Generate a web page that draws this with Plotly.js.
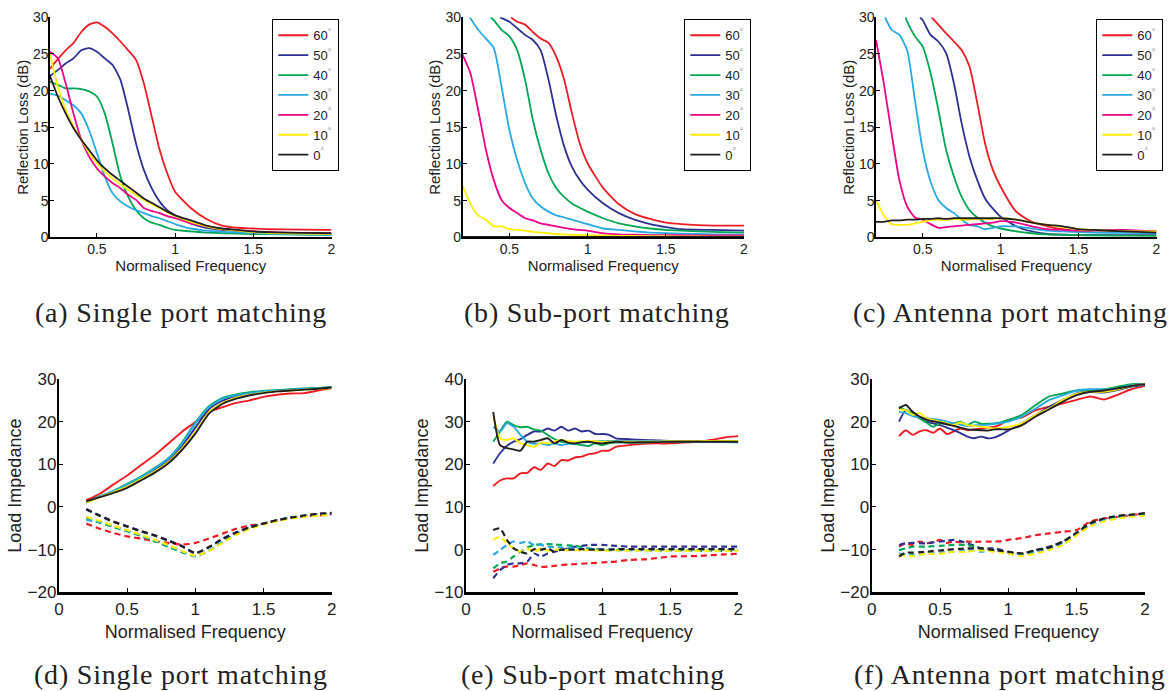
<!DOCTYPE html>
<html>
<head>
<meta charset="utf-8">
<script src="https://cdn.plot.ly/plotly-3.0.1.min.js"></script>
<style>
html,body{margin:0;padding:0;background:#fff;}
.annotation-text{letter-spacing:0.8px;}
</style>
</head>
<body>
<div id="chart" style="width:1173px;height:691px;"></div>
<script>
// ---------- series names & colours ----------
const angleNames = ['60','50','40','30','20','10','0'];
const angleColors = ['#ed1c24','#2e3192','#00a651','#27aae1','#ec008c','#ffee00','#231f20'];

// ---------- (a) Single port matching : reflection loss ----------
const fA = [0.2,0.25,0.3,0.35,0.4,0.45,0.5,0.55,0.6,0.65,0.7,0.75,0.8,0.85,0.9,0.95,1.0,1.1,1.2,1.3,1.4,1.5,1.6,1.8,2.0];
const rlA60 = [23,24.3,25.5,26.5,28,29,29.3,28.7,27.8,26.7,25.5,24.2,21,16.5,12,8.7,6.2,4.0,2.5,1.6,1.3,1.2,1.1,1.05,1.0];
const rlA50 = [22,22.8,23.7,24.4,25.5,25.8,25.3,24.4,23.5,21.5,17.4,12.8,9.2,6.7,4.9,3.7,3.0,1.9,1.3,1.0,0.85,0.7,0.6,0.5,0.45];
const rlA40 = [21.2,20.8,20.3,20.3,20.2,19.9,19.2,16.9,12.8,8.3,5.5,3.7,2.6,2.0,1.7,1.3,1.0,0.8,0.65,0.55,0.5,0.45,0.42,0.38,0.35];
const rlA30 = [19.6,19.3,18.7,18,16.9,14.6,11.5,8.3,6,4.9,4.2,3.7,3.3,2.9,2.6,2.2,1.8,1.2,0.9,0.75,0.65,0.55,0.5,0.4,0.3];
const rlA20 = [25.3,24.4,21,16.9,13.3,11,9.4,8.3,7.4,6.7,5.8,5.1,4.0,3.6,3.3,2.9,2.6,1.9,1.5,1.1,0.95,0.8,0.7,0.6,0.55];
const rlA10 = [25,20.5,17.4,15.1,13.3,11.5,10.1,9,8,7.2,6.5,5.8,5.1,4.5,4.0,3.4,2.9,2.1,1.5,1.1,0.9,0.7,0.6,0.5,0.45];
const rlA0  = [22,19.2,16.9,14.9,13.3,11.9,10.5,9.4,8.5,7.7,6.9,6.1,5.3,4.7,4.1,3.5,3.0,2.3,1.6,1.2,1.0,0.8,0.7,0.6,0.55];

// ---------- (b) Sub-port matching : reflection loss ----------
const fB60 = [0.51,0.55,0.6,0.65,0.7,0.75,0.8,0.85,0.9,0.95,1.0,1.1,1.2,1.3,1.4,1.5,1.6,1.8,2.0];
const rlB60 = [30,29.4,29,28,27.1,26.5,24.6,21.5,16.9,12.8,10.1,6.7,4.5,3.2,2.5,2.0,1.8,1.6,1.6];
const fB50 = [0.44,0.5,0.55,0.6,0.65,0.7,0.75,0.8,0.85,0.9,0.95,1.0,1.1,1.2,1.3,1.4,1.5,1.6,1.8,2.0];
const rlB50 = [30,29.4,28.5,27.6,26.9,25.5,21.5,16.5,12.4,9.6,7.8,6.5,4.6,3.3,2.4,1.8,1.4,1.1,1.0,0.9];
const fB40 = [0.38,0.4,0.45,0.5,0.55,0.6,0.65,0.7,0.75,0.8,0.85,0.9,1.0,1.1,1.2,1.3,1.4,1.5,1.6,1.8,2.0];
const rlB40 = [30,29.6,28.3,27.4,25.5,21.5,16,11.9,8.7,6.7,5.5,4.6,3.5,2.6,1.9,1.5,1.2,1.0,0.9,0.75,0.65];
const fB30 = [0.247,0.3,0.35,0.4,0.45,0.5,0.55,0.6,0.65,0.7,0.75,0.8,0.85,0.9,0.95,1.0,1.1,1.2,1.3,1.4,1.5,1.6,1.8,2.0];
const rlB30 = [30,28.3,27.1,25.8,20.5,14.6,10.5,7.4,5.3,4.2,3.5,3.0,2.7,2.4,2.1,1.8,1.2,1.0,0.8,0.65,0.55,0.5,0.4,0.35];
const rlB20 = [24.9,22.4,17.4,11.9,7.8,5.1,4.0,3.3,2.6,2.3,1.9,1.7,1.5,1.3,1.1,1.0,0.9,0.55,0.4,0.35,0.3,0.3,0.28,0.25,0.25];
const rlB10 = [7.1,4.6,3.0,2.4,1.5,1.5,1.1,1.0,0.9,0.75,0.65,0.55,0.45,0.4,0.35,0.32,0.3,0.25,0.2,0.18,0.16,0.15,0.13,0.1,0.1];
const rlB0  = [0.05,0.05,0.05,0.05,0.05,0.05,0.05,0.05,0.05,0.05,0.05,0.05,0.05,0.05,0.05,0.05,0.05,0.05,0.05,0.05,0.05,0.05,0.05,0.05,0.05];

// ---------- (c) Antenna port matching : reflection loss ----------
const fC60 = [0.557,0.6,0.65,0.7,0.75,0.8,0.85,0.9,0.95,1.0,1.1,1.2,1.3,1.4,1.5,1.6,1.7,1.8,2.0];
const rlC60 = [30,29,27.8,26.7,25.5,23.3,18.3,12.8,9.2,6.9,3.5,2.1,1.5,1.1,0.9,0.9,0.9,0.88,0.85];
const fC50 = [0.482,0.5,0.55,0.6,0.65,0.7,0.75,0.8,0.85,0.9,0.95,1.0,1.1,1.2,1.3,1.4,1.5,1.6,1.8,2.0];
const rlC50 = [30,29.6,27.6,26.7,25.1,21,15.5,11,7.8,5.3,3.9,2.8,1.5,0.8,0.45,0.35,0.3,0.3,0.3,0.3];
const fC40 = [0.39,0.4,0.45,0.5,0.55,0.6,0.65,0.7,0.75,0.8,0.85,0.9,0.95,1.0,1.1,1.2,1.3,1.4,1.5,1.6,1.8,2.0];
const rlC40 = [30,29.4,27.4,26,22.4,17.4,11.9,8.3,5.5,3.7,2.7,2.0,1.5,1.2,0.8,0.55,0.4,0.35,0.3,0.25,0.22,0.2];
const fC30 = [0.258,0.3,0.35,0.4,0.45,0.5,0.55,0.6,0.65,0.7,0.75,0.8,0.85,0.9,0.95,1.0,1.05,1.1,1.2,1.3,1.4,1.5,1.6,1.8,2.0];
const rlC30 = [30,28.3,27.6,25.5,18.7,11.9,7.6,5.1,4.0,3.3,2.4,1.7,1.5,1.1,1.3,1.5,1.5,1.5,1.2,0.9,0.8,0.7,0.65,0.6,0.55];
const rlC20 = [26.9,21,14.2,7.8,4.2,2.7,2.4,1.8,1.3,1.4,1.5,1.6,1.7,1.8,1.9,2.0,2.2,2.0,1.5,1.1,1.0,0.9,0.95,1.0,0.8];
const rlC10 = [5.1,3.0,1.8,1.7,1.7,1.9,2.1,2.3,2.4,2.3,2.5,2.4,2.4,2.5,2.5,2.5,2.6,2.4,2.0,1.7,1.4,1.1,1.0,0.85,0.8];
const rlC0  = [2.1,2.1,2.3,2.3,2.4,2.4,2.5,2.5,2.6,2.5,2.6,2.6,2.6,2.6,2.6,2.6,2.6,2.4,2.0,1.7,1.5,1.1,1.0,0.8,0.65];

// ---------- (d) Single port matching : load impedance ----------
const fD = [0.2,0.3,0.4,0.5,0.6,0.7,0.8,0.9,1.0,1.1,1.2,1.3,1.4,1.5,1.6,1.7,1.8,1.9,2.0];
const reD60 = [1.6,3.1,5.3,7.4,9.8,12.1,14.8,17.6,19.9,22.3,23.4,24.4,25.0,25.8,26.3,26.6,26.7,27.3,27.9];
const reD50 = [1.2,2.4,3.6,5.0,6.7,8.6,10.8,14.2,18.6,22.9,24.9,25.9,26.5,26.9,27.2,27.4,27.6,27.8,28.0];
const reD40 = [1.0,2.5,3.8,5.4,7.1,9.1,11.4,15.0,19.8,23.6,25.6,26.4,26.9,27.2,27.4,27.6,27.8,27.9,28.1];
const reD30 = [1.1,2.5,3.75,5.3,7.0,9.0,11.3,14.8,19.6,23.4,25.4,26.2,26.7,27.1,27.3,27.5,27.7,27.9,28.1];
const reD10 = [1.0,2.3,3.5,4.8,6.5,8.3,10.5,13.7,17.6,22.2,24.4,25.6,26.3,26.8,27.1,27.3,27.5,27.7,27.9];
const reD0  = [1.3,2.3,3.3,4.5,6.2,8.0,10.2,13.3,17.2,21.9,24.2,25.4,26.2,26.7,27.1,27.3,27.5,27.7,28.0];
const imD60 = [-3.9,-5.1,-6.1,-6.9,-7.4,-8.0,-8.4,-8.8,-8.4,-7.4,-6.25,-5.1,-4.3,-3.9,-3.1,-2.5,-2.2,-2.0,-1.7];
const imD50 = [-0.5,-2.0,-3.4,-4.5,-5.6,-6.6,-7.8,-9.1,-10.8,-9.4,-7.4,-5.9,-4.7,-3.9,-3.1,-2.5,-2.0,-1.6,-1.4];
const imD40 = [-2.6,-3.7,-4.7,-5.7,-6.8,-8.0,-9.3,-10.6,-11.5,-10.2,-8.2,-6.3,-4.9,-3.9,-3.1,-2.5,-2.1,-1.8,-1.6];
const imD30 = [-3.1,-3.5,-4.5,-5.5,-6.6,-7.8,-9.0,-10.4,-11.6,-10.2,-8.2,-6.25,-4.9,-3.9,-3.1,-2.5,-2.1,-1.8,-1.6];
const imD10 = [-2.3,-3.3,-4.4,-5.4,-6.5,-7.7,-8.9,-10.3,-11.4,-10.3,-8.4,-6.5,-5.1,-4.1,-3.3,-2.7,-2.3,-2.0,-1.8];
const imD0  = [-0.6,-2.1,-3.5,-4.6,-5.7,-6.7,-7.9,-9.2,-10.8,-9.4,-7.5,-6.0,-4.8,-3.9,-3.1,-2.5,-2.0,-1.6,-1.4];

// ---------- (e) Sub-port matching : load impedance ----------
const fE = [0.2,0.25,0.3,0.35,0.4,0.45,0.5,0.55,0.6,0.65,0.7,0.75,0.8,0.85,0.9,0.95,1.0,1.05,1.1,1.2,1.3,1.4,1.5,1.6,1.7,1.8,1.9,2.0];
const reE60 = [14.9,16.2,16.7,16.7,17.9,18.0,19.3,18.7,20.2,19.6,21.0,20.9,21.6,21.8,22.4,22.6,23.2,23.2,24.1,24.5,24.8,24.9,24.9,25.1,25.3,25.7,26.3,26.6];
const reE50 = [20.2,22.6,24.3,25.3,25.9,26.9,27.7,27.7,28.4,27.9,28.8,27.9,28.4,27.7,27.9,27.1,27.1,26.9,26.1,25.9,25.7,25.6,25.5,25.5,25.5,25.4,25.3,25.3];
const reE40 = [25.3,27.7,30.0,29.2,28.7,28.8,28.2,27.9,26.9,25.9,25.3,25.1,24.8,24.5,24.3,24.9,24.5,24.9,25.1,25.1,25.1,25.2,25.2,25.2,25.3,25.4,25.5,25.5];
const reE30 = [28.8,27.7,29.6,28.8,26.9,25.3,24.8,24.9,24.5,24.9,24.5,24.8,24.9,25.1,25.3,25.4,25.5,25.5,25.5,25.5,25.5,25.4,25.4,25.3,25.3,25.2,25.2,25.1];
const reE10 = [31.2,26.1,25.7,26.1,24.9,24.5,24.1,25.1,24.9,25.3,25.7,25.4,25.3,25.4,25.5,25.4,25.3,25.3,25.3,25.3,25.3,25.3,25.4,25.4,25.4,25.5,25.5,25.5];
const reE0  = [32.3,24.5,23.8,23.5,23.2,25.3,25.3,25.7,26.1,24.9,25.7,25.1,24.9,25.2,25.3,25.0,24.9,25.1,25.3,25.1,25.2,25.2,25.3,25.3,25.3,25.3,25.3,25.3];
const imE60 = [-5.2,-4.4,-4.0,-4.0,-3.6,-3.2,-3.6,-4.0,-4.0,-3.8,-3.6,-3.5,-3.4,-3.3,-3.2,-3.1,-3.0,-2.9,-2.8,-2.4,-2.3,-2.0,-1.6,-1.55,-1.5,-1.3,-1.1,-1.0];
const imE50 = [-6.7,-4.8,-3.6,-3.2,-3.2,-2.8,-0.9,-1.6,-0.9,-0.5,-0.1,0.3,0.7,0.9,1.1,1.1,1.1,1.0,0.9,0.7,0.7,0.7,0.7,0.7,0.7,0.7,0.7,0.7];
const imE40 = [-4.4,-3.2,-2.8,-1.6,-0.5,0.5,1.1,1.25,1.3,1.2,1.1,1.0,0.9,0.6,0.3,0.1,-0.1,-0.1,-0.1,-0.1,-0.15,-0.2,-0.2,-0.2,-0.25,-0.3,-0.3,-0.3];
const imE30 = [-1.25,-0.1,1.1,1.9,1.6,1.9,1.1,1.1,0.7,0.6,0.5,0.4,0.3,0.2,0.2,0.1,0.1,0.05,0.0,0.0,0.0,0.0,0.0,0.0,0.0,0.0,0.0,0.0];
const imE10 = [2.3,3.0,1.5,0.3,-0.5,0.3,-0.5,0.3,-0.2,0.0,0.0,-0.1,-0.1,-0.2,-0.1,-0.2,-0.2,-0.2,-0.2,-0.2,-0.2,-0.3,-0.3,-0.3,-0.3,-0.3,-0.3,-0.3];
const imE0  = [4.6,5.0,2.3,0.3,-0.5,-0.9,0.1,0.0,0.3,-0.5,0.0,0.0,0.0,0.1,0.0,0.0,0.0,0.0,0.1,0.1,0.1,0.1,0.1,0.1,0.1,0.1,0.1,0.1];

// ---------- (f) Antenna port matching : load impedance ----------
const fF = [0.2,0.25,0.3,0.35,0.4,0.45,0.5,0.55,0.6,0.65,0.7,0.75,0.8,0.85,0.9,0.95,1.0,1.1,1.2,1.3,1.4,1.5,1.6,1.7,1.8,1.9,2.0];
const reF60 = [16.6,18.0,16.9,17.7,18.0,17.4,18.4,17.1,17.7,18.4,18.0,18.2,18.4,18.6,18.8,19.5,20.4,21.0,22.7,23.5,24.3,25.1,25.9,25.2,26.3,27.6,28.4];
const reF50 = [20.0,22.7,21.6,20.8,20.0,19.6,19.2,18.6,18.0,17.3,16.5,16.1,16.5,16.1,16.3,17.0,17.9,19.6,21.6,23.5,25.1,26.6,27.0,26.8,27.4,28.2,28.6];
const reF40 = [23.5,22.7,22.0,20.8,19.8,18.8,19.6,19.4,19.5,20.0,19.2,20.0,19.5,19.5,19.6,19.9,20.4,21.6,23.9,25.9,26.6,27.3,27.4,27.6,28.2,28.8,28.8];
const reF30 = [22.3,22.0,21.3,21.0,20.8,20.6,20.4,20.0,19.6,19.3,19.0,19.1,19.2,19.3,19.5,19.7,20.0,21.2,23.1,25.1,26.2,27.3,27.6,27.6,27.8,28.6,28.8];
const reF10 = [22.9,22.7,21.6,22.0,20.8,20.4,20.0,19.6,19.2,19.8,19.2,19.0,18.8,18.6,18.4,18.6,18.8,19.6,21.6,23.1,25.1,26.5,27.0,27.0,27.6,28.4,28.8];
const reF0  = [23.1,23.9,22.3,21.2,20.5,20.1,19.8,19.4,19.0,18.6,18.2,18.1,18.0,17.9,18.2,18.2,18.2,19.2,21.2,22.9,24.7,26.2,27.0,27.3,27.8,28.4,28.8];
const imF60 = [-9.3,-8.5,-8.9,-8.1,-8.5,-8.3,-7.7,-8.4,-8.1,-8.3,-8.1,-8.2,-8.1,-8.1,-8.1,-8.0,-7.7,-7.3,-6.6,-6.2,-5.8,-5.4,-3.4,-2.7,-2.3,-1.9,-1.5];
const imF50 = [-8.9,-8.5,-8.4,-8.5,-8.5,-8.3,-8.1,-7.9,-7.7,-8.0,-8.5,-9.1,-9.7,-9.7,-9.7,-10.1,-10.5,-10.9,-10.1,-9.3,-8.1,-6.2,-3.8,-2.9,-2.3,-1.9,-1.5];
const imF40 = [-10.1,-9.7,-9.3,-9.3,-9.3,-9.2,-9.1,-9.0,-8.9,-8.9,-8.9,-9.3,-9.7,-9.9,-10.1,-10.4,-10.7,-10.9,-10.2,-9.5,-8.1,-6.2,-3.8,-2.9,-2.3,-1.9,-1.6];
const imF30 = [-10.9,-11.1,-11.25,-11.1,-11.0,-10.8,-10.7,-10.6,-10.5,-10.3,-10.1,-10.3,-10.5,-10.3,-10.2,-10.5,-10.9,-11.25,-10.5,-9.7,-8.4,-6.3,-4.2,-3.0,-2.3,-2.0,-1.9];
const imF10 = [-11.25,-11.4,-11.5,-11.2,-11.0,-11.0,-11.0,-10.7,-10.5,-10.5,-10.5,-10.3,-10.2,-10.3,-10.5,-10.7,-10.9,-11.5,-10.9,-10.1,-8.9,-6.6,-4.5,-3.4,-2.7,-2.3,-2.1];
const imF0  = [-11.6,-10.7,-10.7,-10.6,-10.5,-10.3,-10.2,-10.0,-9.9,-9.8,-9.7,-9.7,-9.7,-9.9,-10.1,-10.3,-10.5,-10.9,-10.1,-9.5,-8.1,-6.0,-3.8,-2.7,-2.1,-1.8,-1.5];

// ---------- captions ----------
const captions = ['(a) Single port matching','(b) Sub-port matching','(c) Antenna port matching',
                  '(d) Single port matching','(e) Sub-port matching','(f) Antenna port matching'];

// ---------- assemble traces ----------
const topSets = [
  {xs:[fA,fA,fA,fA,fA,fA,fA], ys:[rlA60,rlA50,rlA40,rlA30,rlA20,rlA10,rlA0]},
  {xs:[fB60,fB50,fB40,fB30,fA,fA,fA], ys:[rlB60,rlB50,rlB40,rlB30,rlB20,rlB10,rlB0]},
  {xs:[fC60,fC50,fC40,fC30,fA,fA,fA], ys:[rlC60,rlC50,rlC40,rlC30,rlC20,rlC10,rlC0]}
];
const botSets = [
  {x:fD, idx:[0,1,2,3,5,6], re:[reD60,reD50,reD40,reD30,reD10,reD0], im:[imD60,imD50,imD40,imD30,imD10,imD0]},
  {x:fE, idx:[0,1,2,3,5,6], re:[reE60,reE50,reE40,reE30,reE10,reE0], im:[imE60,imE50,imE40,imE30,imE10,imE0]},
  {x:fF, idx:[0,1,2,3,5,6], re:[reF60,reF50,reF40,reF30,reF10,reF0], im:[imF60,imF50,imF40,imF30,imF10,imF0]}
];

const traces = [];
topSets.forEach((s, p) => {
  const ax = p === 0 ? '' : String(p + 1);
  s.ys.forEach((y, k) => {
    traces.push({
      type:'scatter', mode:'lines', x:s.xs[k], y:y,
      xaxis:'x' + ax, yaxis:'y' + ax,
      name: angleNames[k] + '<sup><span style="color:#888">°</span></sup>',
      legend: p === 0 ? 'legend' : 'legend' + (p + 1),
      line:{color:angleColors[k], width:1.8, shape:'spline', smoothing:0.6},
      hoverinfo:'skip'
    });
  });
});
botSets.forEach((s, p) => {
  const ax = String(p + 4);
  s.re.forEach((y, k) => {
    traces.push({type:'scatter', mode:'lines', x:s.x, y:y, xaxis:'x'+ax, yaxis:'y'+ax, showlegend:false,
      line:{color:angleColors[s.idx[k]], width:1.9, shape:'spline', smoothing:0.6}, hoverinfo:'skip'});
  });
  s.im.forEach((y, k) => {
    traces.push({type:'scatter', mode:'lines', x:s.x, y:y, xaxis:'x'+ax, yaxis:'y'+ax, showlegend:false,
      line:{color:angleColors[s.idx[k]], width:2.2, dash:'6px,4px', shape:'spline', smoothing:0.6}, hoverinfo:'skip'});
  });
});

// ---------- layout ----------
const W = 1173, H = 691;
const px = (a, b) => [a / W, b / W];
const py = (top, bottom) => [1 - bottom / H, 1 - top / H];
const FONT = 'Liberation Sans, Arial, Helvetica, sans-serif';

function xAxis(dom, anchor, top) {
  return {
    domain: dom, anchor: anchor,
    range: top ? [0.2, 2] : [0, 2],
    tickmode: 'array',
    tickvals: top ? [0.5, 1, 1.5, 2] : [0, 0.5, 1, 1.5, 2],
    showline: true, linecolor: '#000', linewidth: top ? 1.6 : 2.2,
    ticks: 'inside', ticklen: 4, tickwidth: 1, tickcolor: '#000',
    ticklabelstandoff: top ? -2 : 0,
    showgrid: false, zeroline: false, automargin: false, fixedrange: true,
    tickfont: {family: FONT, size: top ? 14 : 17, color: '#222'},
    title: {text: 'Normalised Frequency', font: {family: FONT, size: top ? 15 : 18, color: '#222'}, standoff: top ? 0 : 8}
  };
}
function yAxis(dom, anchor, range, dtick, top) {
  return {
    domain: dom, anchor: anchor, range: range, dtick: dtick, tick0: 0,
    showline: true, linecolor: '#000', linewidth: top ? 1.6 : 2.2,
    ticks: 'inside', ticklen: 4, tickwidth: 1, tickcolor: '#000',
    ticklabelstandoff: -3,
    showgrid: false, zeroline: false, automargin: false, fixedrange: true,
    tickfont: {family: FONT, size: top ? 14 : 17, color: '#222'},
    title: {text: top ? 'Reflection Loss (dB)' : 'Load Impedance', font: {family: FONT, size: top ? 15 : 18, color: '#222'}, standoff: top ? 1 : 1}
  };
}

const yTop = py(17.3, 237.3), yBot = py(379, 592.3);
function legendAt(left) {
  return {x: left / W, y: 1 - 19 / H, xanchor: 'left', yanchor: 'top',
    bgcolor: '#fff', bordercolor: '#000', borderwidth: 1.3,
    font: {family: FONT, size: 13, color: '#222'}, itemwidth: 30, tracegroupgap: 0};
}

const capPos = [[181, 312], [597, 312], [1010, 312], [181, 674], [593, 674], [1010, 674]];
const annotations = captions.map((t, i) => ({
  text: t, xref: 'paper', yref: 'paper', x: capPos[i][0] / W, y: 1 - capPos[i][1] / H,
  xanchor: 'center', yanchor: 'middle', showarrow: false,
  font: {family: 'Liberation Serif, Times New Roman, serif', size: 28, color: '#222'}
}));

const layout = {
  width: W, height: H, margin: {l: 0, r: 0, t: 0, b: 0, pad: 0},
  paper_bgcolor: '#fff', plot_bgcolor: '#fff',
  font: {family: FONT, color: '#222'},
  showlegend: true,
  xaxis:  xAxis(px(50, 331.5), 'y', true),
  yaxis:  yAxis(yTop, 'x', [0, 30], 5, true),
  xaxis2: xAxis(px(462.5, 744), 'y2', true),
  yaxis2: yAxis(yTop, 'x2', [0, 30], 5, true),
  xaxis3: xAxis(px(876, 1156.5), 'y3', true),
  yaxis3: yAxis(yTop, 'x3', [0, 30], 5, true),
  xaxis4: xAxis(px(59, 331.7), 'y4', false),
  yaxis4: yAxis(yBot, 'x4', [-20, 30], 10, false),
  xaxis5: xAxis(px(466, 738.3), 'y5', false),
  yaxis5: yAxis(yBot, 'x5', [-10, 40], 10, false),
  xaxis6: xAxis(px(871.7, 1145), 'y6', false),
  yaxis6: yAxis(yBot, 'x6', [-20, 30], 10, false),
  legend: legendAt(272), legend2: legendAt(684), legend3: legendAt(1096),
  annotations: annotations
};

Plotly.newPlot('chart', traces, layout, {staticPlot: true, displayModeBar: false});
</script>
</body>
</html>
